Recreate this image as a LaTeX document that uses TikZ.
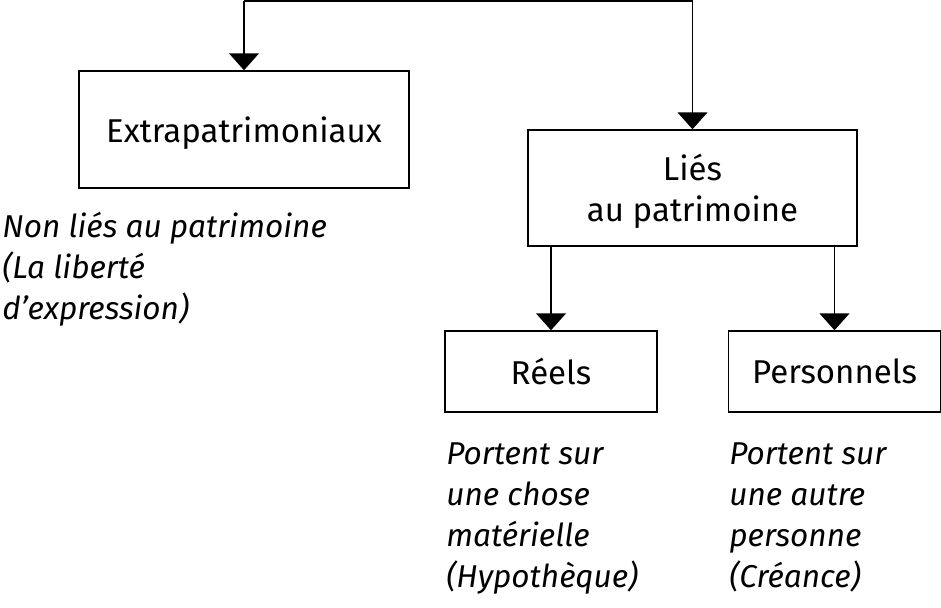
\documentclass[tikz,border=0pt]{standalone}
\usepackage{fontspec}
\setmainfont{Fira Sans}
\usetikzlibrary{arrows.meta}
\tikzstyle{box}=[draw, line width=0.75pt, align=center, inner sep=0pt, text depth=0pt, font=\fontsize{16.5}{20.5}\selectfont]
\tikzstyle{note}=[anchor=base west, align=left, inner sep=0pt, font=\itshape\fontsize{15.8}{20.5}\selectfont]
\tikzstyle{link}=[line width=0.75pt, ->, >={Triangle[width=15pt,length=8.5pt]}]

\begin{document}
\begin{tikzpicture}[x=0.5pt,y=-0.5pt]
      \useasboundingbox (0,0) rectangle (941,607);
      \node [box, minimum width=165pt, minimum height=58.5pt] (extra) at (244,129.5) {Extrapatrimoniaux};
      \node [box, minimum width=164.5pt, minimum height=58pt] (lies) at (692.5,188) {Liés\\au patrimoine};
      \node [box, minimum width=106pt, minimum height=40.5pt] (reels) at (551,371.5) {Réels};
      \node [box, minimum width=106pt, minimum height=40.5pt] (perso) at (834.5,371.5) {Personnels};
      \coordinate (top) at (244,1);
      \draw [link] (top) -- (extra.north);
      \draw [link] (top) -| (lies.north);
      \draw [link] (lies.south -| reels.north) -- (reels.north);
      \draw [link] (lies.south -| perso.north) -- (perso.north);
      % base anchor sits on the last line
      \node [note] (extranote) at (2,319) {Non liés au patrimoine\\(La liberté\\d’expression)};
      \node [note] (reelsnote) at (446,587) {Portent sur\\une chose\\matérielle\\(Hypothèque)};
      \node [note] (persónote) at (729,587) {Portent sur\\une autre\\personne\\(Créance)};
    \end{tikzpicture}
\end{document}
